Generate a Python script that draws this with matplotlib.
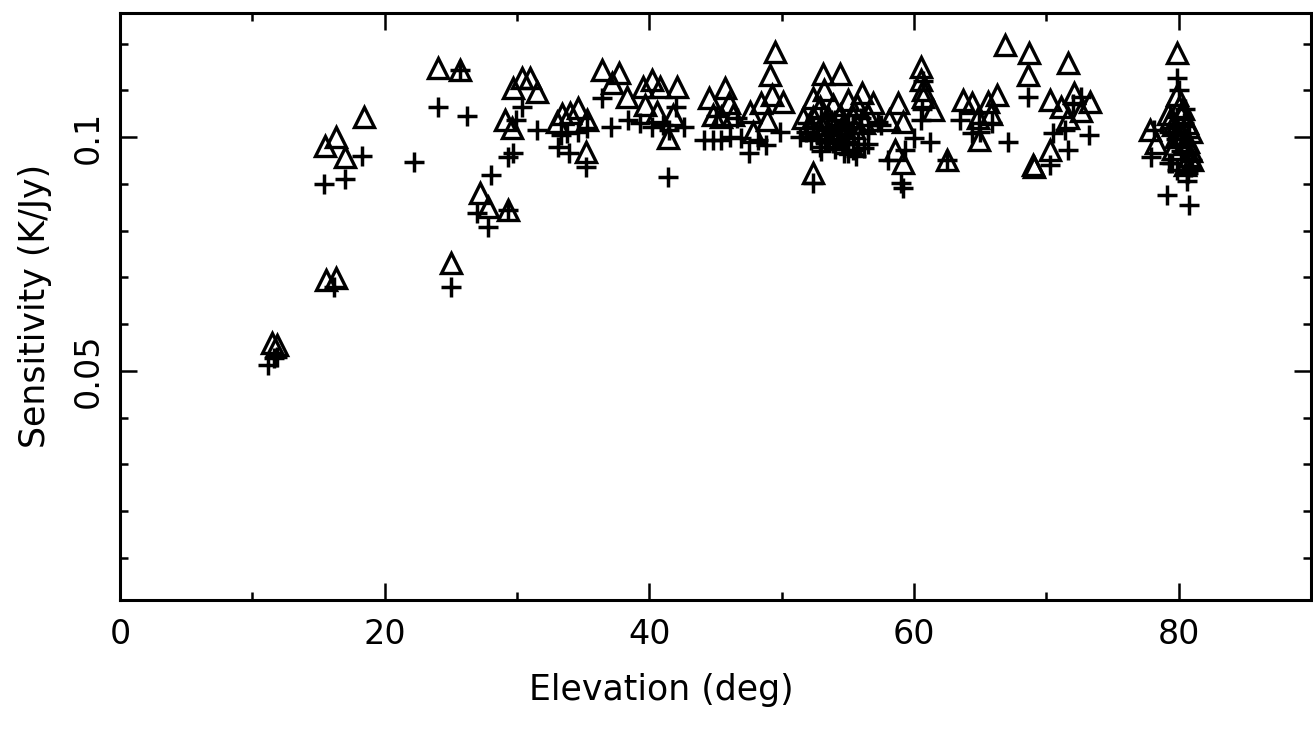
import matplotlib
matplotlib.use("Agg")
from matplotlib import pyplot as plt
from matplotlib.ticker import MultipleLocator, FixedLocator, FormatStrFormatter

# triangles: first sensitivity estimate
tri_elev = [11.5, 11.9, 15.6, 16.3, 15.5, 16.3, 17.0, 18.4,
            24.0, 25.7, 25.0, 27.2, 27.8, 29.3, 29.1, 29.6,
            29.7, 30.4, 31.0, 31.5, 33.0, 33.4, 34.0, 34.6, 35.3, 35.2,
            36.4, 37.7, 37.2, 38.3, 39.5, 40.2, 40.8, 42.1, 39.7, 40.6, 41.8, 41.4,
            44.5, 45.7, 46.0, 44.8, 45.4, 46.3, 47.6, 48.4, 49.3, 50.1, 49.5, 49.1, 48.9, 47.8,
            53.1, 54.4, 53.2, 56.1, 56.9, 52.4, 52.9, 53.9, 55.0, 55.7, 51.6, 52.4,
            53.5, 54.4, 55.4, 56.5, 52.4, 54.0, 55.2,
            52.2, 53.0, 53.8, 54.6, 55.5, 56.2,
            58.8, 60.5, 60.5, 60.7, 60.7, 61.4, 58.1, 59.2, 58.6, 59.2, 62.5,
            63.7, 64.4, 65.6, 66.3, 64.8, 65.8, 64.9,
            66.9, 68.7, 68.6, 71.6,
            70.3, 71.1, 72.1, 73.3, 71.6, 72.6, 70.3, 69.0, 69.1,
            79.9, 79.9, 77.8, 78.3, 79.4, 80.0, 80.3, 80.6, 80.9, 79.8, 80.4, 80.8, 79.6, 80.2,
            79.2, 79.6, 80.3, 80.7, 80.9, 81.0, 80.5]
tri_sens = [0.0560, 0.0555, 0.0694, 0.0699, 0.0980, 0.1000, 0.0958, 0.1043,
            0.1147, 0.1143, 0.0731, 0.0880, 0.0850, 0.0844, 0.1036, 0.1020,
            0.1105, 0.1126, 0.1126, 0.1096, 0.1032, 0.1049, 0.1051, 0.1062, 0.1036, 0.0968,
            0.1143, 0.1137, 0.1115, 0.1085, 0.1107, 0.1122, 0.1107, 0.1107, 0.1068, 0.1053, 0.1047, 0.0998,
            0.1083, 0.1105, 0.1073, 0.1047, 0.1043, 0.1047, 0.1053, 0.1073, 0.1090, 0.1075, 0.1182, 0.1132, 0.1036, 0.1010,
            0.1135, 0.1135, 0.1100, 0.1094, 0.1073, 0.1083, 0.1064, 0.1068, 0.1079, 0.1068, 0.1040, 0.1043,
            0.1043, 0.1047, 0.1043, 0.1047, 0.0923, 0.1000, 0.0985,
            0.1020, 0.1025, 0.1030, 0.1025, 0.1020, 0.1030,
            0.1073, 0.1150, 0.1122, 0.1100, 0.1085, 0.1058, 0.1036, 0.1032, 0.0972, 0.0945, 0.0951,
            0.1079, 0.1073, 0.1075, 0.1090, 0.1040, 0.1049, 0.0994,
            0.1197, 0.1180, 0.1132, 0.1158,
            0.1079, 0.1064, 0.1094, 0.1075, 0.1040, 0.1056, 0.0972, 0.0940, 0.0936,
            0.1180, 0.1090, 0.1015, 0.0987, 0.1040, 0.1064, 0.1060, 0.1030, 0.1010, 0.1000, 0.0985, 0.0960, 0.0975, 0.1045,
            0.1050, 0.1025, 0.1005, 0.0990, 0.0970, 0.0950, 0.0940]

# crosses: second sensitivity estimate
plus_elev = [11.2, 11.9, 11.6, 16.2, 15.4, 17.0, 18.3,
             22.2, 24.0, 26.2, 25.7, 25.0,
             27.0, 27.8, 28.0, 29.3, 29.3, 29.7, 29.9, 30.4, 31.5,
             33.3, 33.8, 34.6, 35.3, 33.1, 33.9, 35.2,
             36.4, 37.1, 38.4, 39.3, 40.2, 41.0, 42.0, 42.6, 41.4, 41.5,
             44.1, 44.8, 45.4, 46.1, 46.9, 47.5, 48.2, 48.8, 49.9, 45.0, 46.6,
             51.4, 52.2, 52.9, 53.9, 54.7, 55.4, 56.2, 52.4, 53.5, 54.4, 55.4, 56.5,
             52.4, 53.0, 54.0, 55.0, 56.0, 54.6, 55.6, 53.6, 51.9, 57.5,
             51.8, 52.7, 53.3, 54.2, 55.0, 55.8, 53.0, 54.0, 55.0, 56.5,
             60.5, 60.0, 61.2, 58.0, 59.3, 59.0, 59.2, 62.5, 60.7, 60.6, 57.3,
             63.5, 64.9, 65.9, 64.4, 65.0, 67.1,
             68.6, 70.5, 71.4, 73.2, 71.6, 70.3, 72.0, 72.6,
             79.9, 78.1, 79.5, 80.7, 79.1, 80.8, 77.9, 80.0, 80.4, 79.6, 80.8, 80.2, 80.6, 79.9, 81.0, 80.5,
             79.3, 79.8, 80.2, 80.7, 80.9, 80.6, 79.3]
plus_sens = [0.0513, 0.0530, 0.0528, 0.0680, 0.0900, 0.0910, 0.0960,
             0.0947, 0.1064, 0.1045, 0.1143, 0.0680,
             0.0838, 0.0808, 0.0919, 0.0844, 0.0957, 0.0966, 0.1036, 0.1064, 0.1015,
             0.1004, 0.1009, 0.1011, 0.1019, 0.0979, 0.0966, 0.0936,
             0.1083, 0.1021, 0.1036, 0.1030, 0.1021, 0.1026, 0.1064, 0.1021, 0.0915, 0.1015,
             0.0994, 0.0994, 0.0994, 0.1000, 0.0998, 0.0966, 0.0994, 0.0983, 0.1011, 0.1045, 0.1040,
             0.1000, 0.0994, 0.0979, 0.0988, 0.0966, 0.0972, 0.0977, 0.1021, 0.1015, 0.1015, 0.1009, 0.1015,
             0.0902, 0.1040, 0.1036, 0.1030, 0.1040, 0.0985, 0.0960, 0.0995, 0.1030, 0.1025,
             0.1010, 0.1005, 0.0990, 0.0995, 0.0990, 0.0985, 0.0970, 0.0975, 0.0965, 0.0985,
             0.1036, 0.0998, 0.0990, 0.0951, 0.0972, 0.0902, 0.0891, 0.0951, 0.1120, 0.1060, 0.1032,
             0.1036, 0.1030, 0.1030, 0.1009, 0.1011, 0.0990,
             0.1086, 0.1009, 0.1015, 0.1004, 0.0972, 0.0940, 0.1070, 0.1085,
             0.1126, 0.1015, 0.0945, 0.0923, 0.0876, 0.0855, 0.0957, 0.1100, 0.1030, 0.1020, 0.1000, 0.0970, 0.0905, 0.0930, 0.0950, 0.1060,
             0.1010, 0.0995, 0.0985, 0.0965, 0.0935, 0.0920, 0.0945]

x_ticks = [0, 20, 40, 60, 80]
y_ticks = [0.05, 0.1]

fig = plt.figure(figsize=(13.13, 7.3), dpi=100)
ax = fig.add_axes([0.0914, 0.178, 0.9071, 0.804])

ax.plot(tri_elev, tri_sens, ls="none", marker="^", ms=14, mfc="none",
        mec="black", mew=2.4)
ax.plot(plus_elev, plus_sens, ls="none", marker="+", ms=15, color="black", mew=2.5)

ax.set_xlim(0, 90)
ax.set_ylim(0.001, 0.1265)

ax.xaxis.set_major_locator(FixedLocator(x_ticks))
ax.xaxis.set_minor_locator(MultipleLocator(10))
ax.yaxis.set_major_locator(FixedLocator(y_ticks))
ax.yaxis.set_minor_locator(MultipleLocator(0.01))
ax.yaxis.set_major_formatter(FormatStrFormatter("%g"))

ax.tick_params(which="both", direction="in", top=True, right=True, width=1.8,
               labelsize=24, colors="black")
ax.tick_params(which="major", length=12)
ax.tick_params(which="minor", length=6)
ax.tick_params(axis="x", pad=13)
ax.tick_params(axis="y", pad=11, labelrotation=90)
for lab in ax.get_yticklabels():
    lab.set_va("center")

for s in ax.spines.values():
    s.set_linewidth(2.2)

fig.text(0.5037, 1 - 690 / 730, "Elevation (deg)", ha="center", va="center", fontsize=25)
fig.text(35 / 1313, 1 - 306 / 730, "Sensitivity (K/Jy)", ha="center", va="center",
         rotation=90, fontsize=25)

fig.savefig("out.png", dpi=100)
